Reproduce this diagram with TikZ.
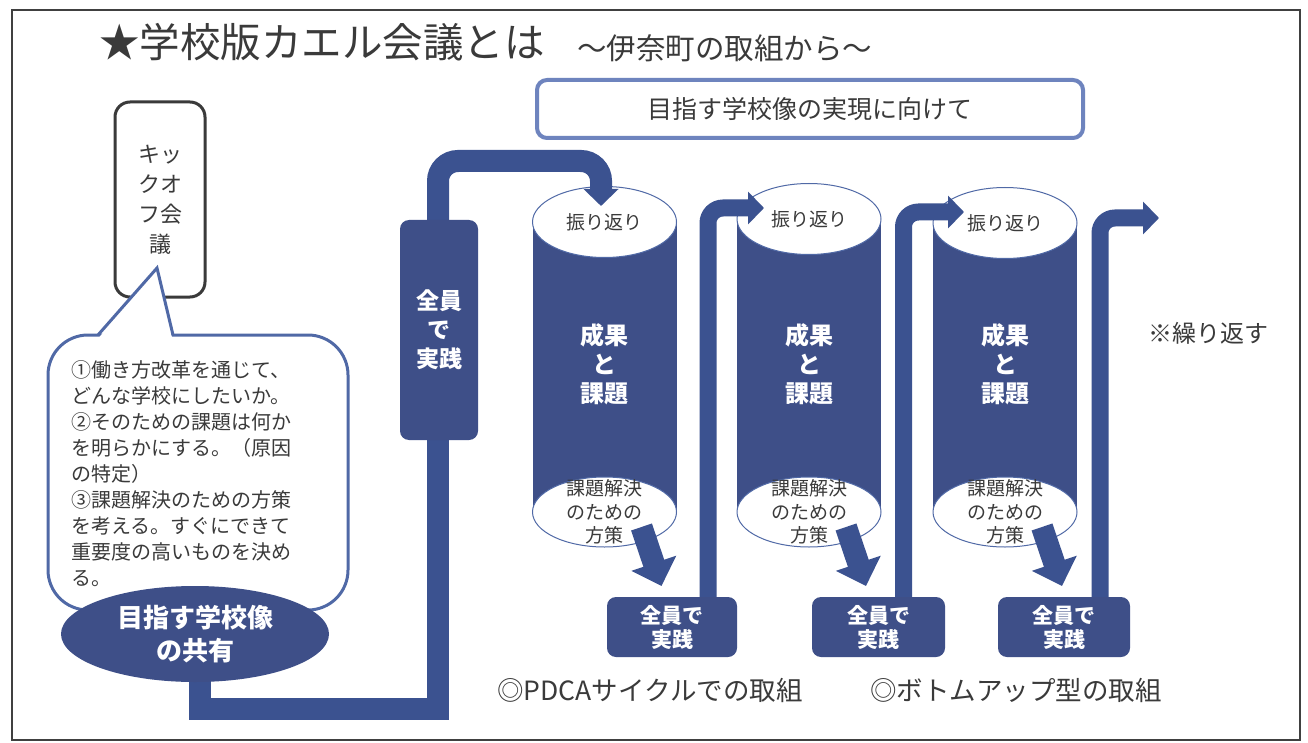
\documentclass[tikz,border=0pt]{standalone}
\usepackage{fontspec}
\setmainfont{Noto Sans CJK JP}
\usetikzlibrary{arrows.meta,shapes.geometric,calc}
\definecolor{navy}{HTML}{3E4F88}
\definecolor{pipec}{HTML}{3B5290}
\definecolor{bubblec}{HTML}{5069A6}
\definecolor{topc}{HTML}{6E84BE}
\definecolor{txt}{HTML}{3A3A3A}
\definecolor{framec}{HTML}{404040}
\begin{document}
\begin{tikzpicture}[x=1pt,y=-1pt,
  every node/.style={inner sep=0pt, outer sep=0pt},
  navybox/.style={fill=navy, rounded corners=9pt, text=white, align=center, font=\bfseries\fontsize{21}{24}\selectfont},
  pipe/.style={draw=pipec, line width=22pt, rounded corners=20pt},
  spipe/.style={draw=pipec, line width=17pt, rounded corners=15pt},
  bigtip/.style={-{Triangle[width=34pt,length=17pt]}},
  smalltip/.style={-{Triangle[width=32pt,length=16pt]}},
  downarrow/.style={draw=pipec, line width=22pt, -{Triangle[width=46pt,length=24pt]}},
  cylbody/.style={fill=navy},
  topell/.style={ellipse, fill=white, draw=bubblec, line width=1pt, minimum width=144pt, minimum height=71pt, text=txt, font=\fontsize{19}{19}\selectfont},
  botell/.style={ellipse, fill=white, draw=bubblec, line width=1pt, minimum width=144pt, minimum height=70pt},
  bottxt/.style={text=txt, align=center, font=\fontsize{19}{23.5}\selectfont},
  restxt/.style={text=white, align=center, font=\bfseries\fontsize{24}{29}\selectfont},
  plain/.style={text=txt}
]
\useasboundingbox (0,0) rectangle (1308,743);
\fill[white] (0,0) rectangle (1308,743);
\draw[framec, line width=2pt] (12,10) rectangle (1300,740);

% title
\node[plain, anchor=west, font=\fontsize{40.5}{40.5}\selectfont] (title) at (99,42) {★学校版カエル会議とは};
\node[plain, anchor=west, font=\fontsize{29.5}{29.5}\selectfont] (subtitle) at (577,48) {～伊奈町の取組から～};

% top box
\node[draw=topc, line width=4pt, rounded corners=10pt, minimum width=546pt, minimum height=58pt, plain, font=\fontsize{25}{25}\selectfont] (goalbox) at (810,109) {目指す学校像の実現に向けて};

% kickoff box
\node[draw=txt, line width=3pt, rounded corners=15pt, minimum width=90pt, minimum height=195pt, plain, align=center, font=\fontsize{22}{30}\selectfont] (kick) at (160,199.5) {キッ\\クオ\\フ会\\議};

% speech bubble
\draw[bubblec, line width=3pt, fill=white, rounded corners=40pt] (48,335) rectangle (348,610);
\fill[white] (99,337.5) -- (157,268) -- (172,337.5) -- cycle;
\draw[bubblec, line width=3pt, line join=miter] (98,335) -- (157,268) -- (173,335);
\node[plain, anchor=west, align=left, font=\fontsize{20}{26}\selectfont] (bubbletext) at (71,474) {①働き方改革を通じて、\\どんな学校にしたいか。\\②そのための課題は何か\\を明らかにする。（原因\\の特定）\\③課題解決のための方策\\を考える。すぐにできて\\重要度の高いものを決め\\る。};

% cylinders
\foreach \i/\cx/\cy in {1/604.5/222, 2/809/219, 3/1005/223}{
  \fill[cylbody] (\cx-72,\cy) rectangle (\cx+72,512);
  \node[botell] (s\i) at (\cx,512) {};
  \node[bottxt] (st\i) at (\cx,512) {課題解決\\のための\\方策};
  \node[topell] (t\i) at (\cx,\cy) {振り返り};
  \node[restxt] (r\i) at (\cx,364) {成果\\と\\課題};
}

% main pipe
\coordinate (g0) at (200,660);
\coordinate (b0) at (438,709);
\coordinate (c0) at (601,161);
\coordinate (tip0) at (601,206);
\draw[draw=pipec, line width=22pt, line join=miter] (g0) |- (b0) -- (438,330);
\draw[pipe, bigtip] (438,330) |- (c0) -- (tip0);

% small pipes
\coordinate (p1) at (708,600);
\coordinate (tip1) at (764,208);
\coordinate (p2) at (903.5,600);
\coordinate (tip2) at (964,212);
\coordinate (p3) at (1100,600);
\coordinate (tip3) at (1159,218);
\draw[spipe, smalltip] (p1) |- (tip1);
\draw[spipe, smalltip] (p2) |- (tip2);
\draw[spipe, smalltip] (p3) |- (tip3);

% goal ellipse
\node[ellipse, fill=navy, minimum width=268pt, minimum height=96pt, text=white, align=center, font=\bfseries\fontsize{26}{33}\selectfont] (goal) at (195,634) {目指す学校像\\の共有};

% action boxes
\node[navybox, minimum width=78pt, minimum height=220pt, font=\bfseries\fontsize{23}{29}\selectfont] (act0) at (439,330) {全員\\で\\実践};
\node[navybox, minimum width=130pt, minimum height=60pt] (act1) at (672,627) {全員で\\実践};
\node[navybox, minimum width=133pt, minimum height=60pt] (act2) at (878.5,627) {全員で\\実践};
\node[navybox, minimum width=132pt, minimum height=60pt] (act3) at (1064,627) {全員で\\実践};

% down arrows
\foreach \i in {1,2,3}{
  \draw[downarrow] ($(s\i.center)+(37,15)$) -- ($(s\i.center)+(57,74)$);
}

% labels
\node[plain, font=\fontsize{24}{24}\selectfont] (repeat) at (1208,333) {※繰り返す};
\node[plain, font=\fontsize{26.5}{26.5}\selectfont] (pdca) at (650,690) {◎PDCAサイクルでの取組};
\node[plain, font=\fontsize{26.5}{26.5}\selectfont] (bottomup) at (1016,690) {◎ボトムアップ型の取組};
\end{tikzpicture}
\end{document}
